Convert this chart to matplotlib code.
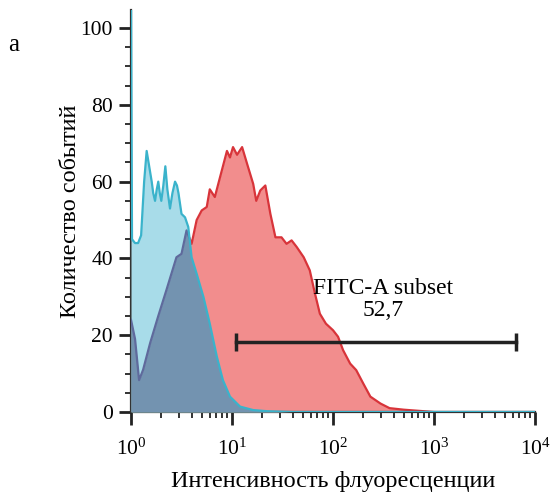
import numpy as np
import matplotlib
matplotlib.use("Agg")
import matplotlib.pyplot as plt
from matplotlib.ticker import LogLocator, MultipleLocator, NullFormatter

plt.rcParams['font.family'] = ['Liberation Serif', 'DejaVu Serif']
plt.rcParams['mathtext.fontset'] = 'custom'
plt.rcParams['mathtext.rm'] = 'Liberation Serif'
plt.rcParams['mathtext.it'] = 'Liberation Serif:italic'

# control (cyan) histogram: log10 intensity -> events
cyan_log = [0.0, 0.01, 0.04, 0.07, 0.10, 0.13, 0.155, 0.18, 0.205, 0.22, 0.238, 0.255,
            0.27, 0.285, 0.30, 0.32, 0.34, 0.36, 0.386, 0.41, 0.436, 0.455, 0.47, 0.50,
            0.535, 0.567, 0.60, 0.65, 0.717, 0.78, 0.85, 0.91, 0.98, 1.08, 1.21, 1.35,
            1.6, 2.0, 3.0, 4.0]
cyan_counts = [110, 45, 44, 44, 46, 60, 68, 64, 60, 57, 55, 58,
               60, 57, 55, 59, 64, 58, 53, 57, 60, 59, 57, 51.6,
               50.7, 48.2, 40.3, 36, 30, 23, 14.4, 8.3, 4, 1.4, 0.5, 0.2,
               0, 0, 0, 0]

# sample (red) histogram
red_log = [0.0, 0.04, 0.08, 0.12, 0.19, 0.27, 0.35, 0.40, 0.45, 0.50, 0.55, 0.60,
           0.65, 0.70, 0.75, 0.78, 0.83, 0.88, 0.95, 0.98, 1.01, 1.05, 1.10, 1.15,
           1.21, 1.24, 1.28, 1.33, 1.38, 1.43, 1.49, 1.54, 1.59, 1.64, 1.71, 1.77,
           1.82, 1.87, 1.93, 2.00, 2.05, 2.10, 2.17, 2.23, 2.30, 2.37, 2.47, 2.56,
           2.70, 2.85, 3.0, 4.0]
red_counts = [24, 19, 8.3, 11, 18, 25, 31.7, 36, 40.3, 41.2, 47.3, 43.8,
              50, 52.5, 53.4, 58, 56, 61, 68, 66.3, 69, 67, 69, 64.6,
              59.4, 55, 57.7, 59, 51.6, 45.5, 45.5, 43.8, 44.7, 43, 40.3, 36.9,
              31, 25.6, 23, 21.3, 19.6, 16.1, 12.6, 10.9, 7.4, 4, 2.2, 1.0,
              0.6, 0.3, 0, 0]

gate_lo, gate_hi, gate_y = 10.9, 6500, 18.3
gate_label = 'FITC-A subset\n52,7'

cyan_x = 10 ** np.array(cyan_log)
red_x = 10 ** np.array(red_log)

fig = plt.figure(figsize=(5.57, 4.95), dpi=100)
ax = fig.add_axes([0.2352, 0.1677, 0.7253, 0.812])
ax.set_xscale('log')

ax.fill_between(red_x, red_counts, color='#f28d8d', lw=0, zorder=1)
ax.plot(red_x, red_counts, color='#d8343a', lw=1.6, zorder=2)
cy = ax.fill_between(cyan_x, cyan_counts, color='#a8dce9', lw=0, zorder=3)
cpath = cy.get_paths()[0]

# overlap of the two histograms
ov = ax.fill_between(red_x, red_counts, color='#7393b0', lw=0, zorder=4)
ov.set_clip_path(cpath, ax.transData)
pl, = ax.plot(red_x, red_counts, color='#5f6a9c', lw=1.6, zorder=5)
pl.set_clip_path(cpath, ax.transData)

ax.plot(cyan_x, cyan_counts, color='#3ab3cb', lw=1.6, zorder=6)

ax.plot([gate_lo, gate_hi], [gate_y, gate_y], color='#222222', lw=2.5,
        marker='|', markersize=13, mew=2.5, zorder=7)
ax.text(313, 29.2, gate_label, ha='center', va='center', fontsize=17,
        linespacing=1.05, zorder=8)

ax.set_xlim(1, 1e4)
ax.set_ylim(0, 104.7)
ax.spines['top'].set_visible(False)
ax.spines['right'].set_visible(False)
for s in ['left', 'bottom']:
    ax.spines[s].set_color('#333333')
    ax.spines[s].set_linewidth(1.6)

ax.set_yticks([0, 20, 40, 60, 80, 100])
ax.yaxis.set_minor_locator(MultipleLocator(5))
ax.xaxis.set_major_locator(LogLocator(base=10, numticks=10))
ax.xaxis.set_minor_locator(LogLocator(base=10, subs=np.arange(2, 10), numticks=10))
ax.xaxis.set_minor_formatter(NullFormatter())
ax.tick_params(which='major', length=9, width=2, color='#222222', labelsize=15.5, pad=4)
ax.tick_params(which='minor', length=4.5, width=1.4, color='#333333')
ax.tick_params(axis='x', which='major', pad=10)

ax.set_xlabel('Интенсивность флуоресценции', fontsize=17.5, labelpad=8)
ax.set_ylabel('Количество событий', fontsize=17.5, labelpad=0)
fig.text(0.024, 0.909, 'а', fontsize=18, ha='center', va='center')

fig.savefig('out.png', dpi=100)
